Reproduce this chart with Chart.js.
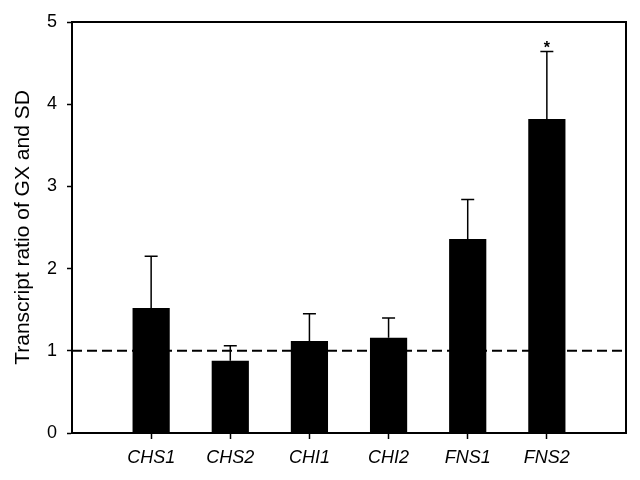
<!DOCTYPE html>
<html>
<head>
<meta charset="utf-8">
<script src="https://cdn.jsdelivr.net/npm/chart.js@4"></script>
<style>
  html, body { margin: 0; padding: 0; background: #fff; }
  canvas { display: block; }
</style>
</head>
<body>
<canvas id="myChart" width="640" height="480"></canvas>
<script>
// Chart data
const categories = ["CHS1", "CHS2", "CHI1", "CHI2", "FNS1", "FNS2"];
const ratios = [1.52, 0.88, 1.12, 1.16, 2.36, 3.82];
const sdValues = [0.63, 0.18, 0.33, 0.24, 0.48, 0.82];
const marks = ["", "", "", "", "", "*"];
const yTicks = [0, 1, 2, 3, 4, 5];
const refLine = 1;

const fontFamily = "'Liberation Sans', Arial, sans-serif";

// error bars, dashed reference line, asterisks and the frame
const extras = {
  id: "extras",
  beforeDatasetsDraw(chart) {
    const { ctx, chartArea, scales } = chart;
    const y = scales.y.getPixelForValue(refLine);
    ctx.save();
    ctx.strokeStyle = "#000";
    ctx.lineWidth = 2;
    ctx.setLineDash([10, 5]);
    ctx.beginPath();
    ctx.moveTo(chartArea.left, y);
    ctx.lineTo(chartArea.right, y);
    ctx.stroke();
    ctx.restore();
  },
  afterDatasetsDraw(chart) {
    const { ctx, chartArea, scales } = chart;
    ctx.save();
    ctx.strokeStyle = "#000";
    ctx.fillStyle = "#000";
    ctx.lineWidth = 1.5;
    ratios.forEach((v, i) => {
      const x = scales.x.getPixelForValue(i + 1);
      const y0 = scales.y.getPixelForValue(v);
      const y1 = scales.y.getPixelForValue(v + sdValues[i]);
      ctx.beginPath();
      ctx.moveTo(x, y0);
      ctx.lineTo(x, y1);
      ctx.moveTo(x - 6.5, y1);
      ctx.lineTo(x + 6.5, y1);
      ctx.stroke();
      if (marks[i]) {
        ctx.font = "bold 16px " + fontFamily;
        ctx.textAlign = "center";
        ctx.textBaseline = "alphabetic";
        ctx.fillText(marks[i], x, y1 + 1);
      }
    });
    // box round the plot
    ctx.lineWidth = 2;
    ctx.strokeRect(chartArea.left, chartArea.top, chartArea.right - chartArea.left, chartArea.bottom - chartArea.top);
    ctx.restore();
  }
};

const data = {
  datasets: [{
    data: ratios.map((v, i) => ({ x: i + 1, y: v })),
    backgroundColor: "#000",
    borderWidth: 0,
    barPercentage: 0.47,
    categoryPercentage: 1
  }]
};

const config = {
  type: "bar",
  data: data,
  options: {
    responsive: false,
    animation: false,
    layout: { padding: { top: 22, right: 14, left: 0, bottom: 0 } },
    plugins: {
      legend: { display: false },
      tooltip: { enabled: false }
    },
    scales: {
      x: {
        type: "linear",
        min: 0,
        max: 7,
        offset: false,
        afterBuildTicks: (scale) => {
          scale.ticks = categories.map((c, i) => ({ value: i + 1 }));
        },
        afterFit: (scale) => { scale.height = 47; },
        grid: { display: true, drawOnChartArea: false, offset: false, tickLength: 6, color: "#000", tickWidth: 1.5 },
        border: { display: true, color: "#000", width: 2 },
        ticks: {
          autoSkip: false,
          maxRotation: 0,
          padding: 8,
          color: "#000",
          font: { family: fontFamily, size: 18, style: "italic" },
          callback: (v) => categories[v - 1] || ""
        }
      },
      y: {
        min: 0,
        max: 5,
        afterBuildTicks: (scale) => {
          scale.ticks = yTicks.map((t) => ({ value: t }));
        },
        afterFit: (scale) => { scale.width = 72; },
        grid: { display: true, drawOnChartArea: false, tickLength: 5, color: "#000", tickWidth: 1.5 },
        border: { display: true, color: "#000", width: 2 },
        ticks: {
          padding: 10,
          color: "#000",
          font: { family: fontFamily, size: 18 }
        },
        title: {
          display: true,
          text: "Transcript ratio of GX and SD",
          color: "#000",
          padding: { top: 11, bottom: 0 },
          font: { family: fontFamily, size: 21 }
        }
      }
    }
  },
  plugins: [extras]
};

// Render the graph
const myChart = new Chart(document.getElementById("myChart"), config);
</script>
</body>
</html>
